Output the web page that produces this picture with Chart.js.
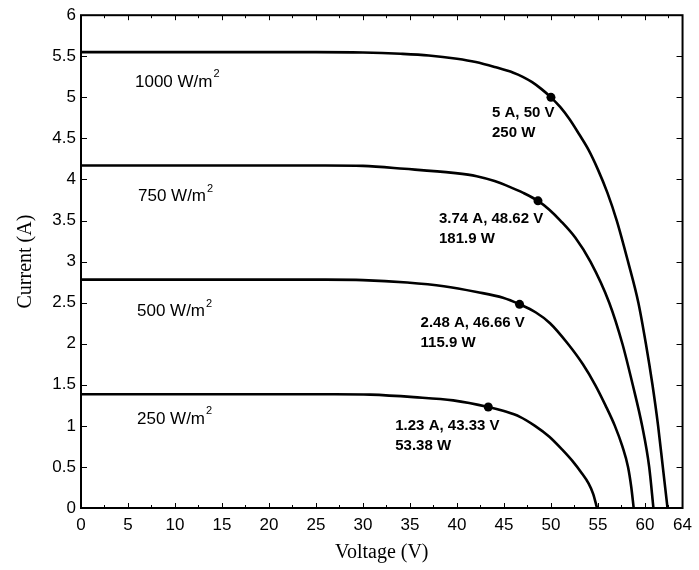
<!DOCTYPE html>
<html>
<head>
<meta charset="utf-8">
<script src="https://cdn.jsdelivr.net/npm/chart.js@4.4.1/dist/chart.umd.min.js"></script>
<style>
  html, body { margin: 0; padding: 0; background: #fff; }
  canvas { display: block; }
</style>
</head>
<body>
<canvas id="iv" width="699" height="570"></canvas>
<script>
// PV module I-V curves at four irradiance levels
const irradiance = [1000, 750, 500, 250];

const volts1000 = [0, 25, 30, 34, 37, 40, 42, 44, 46, 47, 48, 49, 50, 51, 52, 53, 54, 55, 56, 57, 58.2, 59.3, 60.1, 60.8, 61.4, 61.9, 62.4];
const amps1000  = [5.55, 5.55, 5.545, 5.53, 5.51, 5.47, 5.43, 5.37, 5.30, 5.25, 5.185, 5.10, 5.0, 4.88, 4.73, 4.55, 4.36, 4.12, 3.84, 3.5, 3.0, 2.5, 2.0, 1.5, 1.0, 0.5, 0];

const volts750 = [0, 26, 30, 34.4, 39.6, 42.1, 44, 45.6, 47, 48.62, 49.8, 51.0, 52.6, 54.2, 56.2, 57.6, 58.7, 59.7, 60.45, 60.9];
const amps750  = [4.17, 4.17, 4.165, 4.13, 4.08, 4.04, 3.98, 3.91, 3.84, 3.74, 3.635, 3.5, 3.29, 3.0, 2.5, 2.0, 1.5, 1.0, 0.5, 0];

const volts500 = [0, 26, 30, 34.7, 38.6, 42.1, 44.9, 46.66, 48.4, 49.9, 51.8, 53.4, 54.7, 55.8, 56.8, 57.6, 58.2, 58.55, 58.8];
const amps500  = [2.78, 2.78, 2.775, 2.745, 2.70, 2.63, 2.56, 2.48, 2.38, 2.25, 2.0, 1.75, 1.5, 1.25, 1.0, 0.75, 0.5, 0.25, 0];

const volts250 = [0, 27, 30.8, 35.4, 39.6, 43.33, 45, 46.7, 48.3, 49.8, 51.2, 52.3, 53.3, 54.0, 54.5, 54.9];
const amps250  = [1.385, 1.385, 1.38, 1.35, 1.31, 1.23, 1.18, 1.11, 1.0, 0.87, 0.71, 0.57, 0.42, 0.30, 0.17, 0];

// maximum power points
const mppVolts = [50, 48.62, 46.66, 43.33];
const mppAmps  = [5, 3.74, 2.48, 1.23];
const mppWatts = ['250', '181.9', '115.9', '53.38'];

const xTicks = [0, 5, 10, 15, 20, 25, 30, 35, 40, 45, 50, 55, 60, 64];
const yTicks = [0, 0.5, 1, 1.5, 2, 2.5, 3, 3.5, 4, 4.5, 5, 5.5, 6];

const curves = [
  [volts1000, amps1000],
  [volts750, amps750],
  [volts500, amps500],
  [volts250, amps250],
];

const toPoints = (xs, ys) => xs.map((v, i) => ({ x: v, y: ys[i] }));

// label placement, in pixels
const irrLabelLeft = [54, 57, 56, 56];   // from the left edge of the plot
const irrLabelDrop = [30, 31, 32, 25];   // below the short-circuit line
const mppLabelDx = [-59, -99, -99, -93];
const mppLabelDy = [16, 18, 19, 19];

const frame = {
  id: 'frame',
  afterDatasetsDraw(chart) {
    const { ctx, chartArea: a, scales: { x, y } } = chart;
    ctx.save();
    ctx.strokeStyle = '#000';

    // inward tick marks on all four sides
    ctx.lineWidth = 1;
    ctx.beginPath();
    for (let k = 0; k * 2.5 <= 64; k++) {
      const px = Math.round(x.getPixelForValue(k * 2.5)) + 0.5;
      const len = k % 2 ? 3 : 5;
      ctx.moveTo(px, a.bottom); ctx.lineTo(px, a.bottom - len);
      ctx.moveTo(px, a.top); ctx.lineTo(px, a.top + len);
    }
    yTicks.forEach((v) => {
      const py = Math.round(y.getPixelForValue(v)) + 0.5;
      ctx.moveTo(a.left, py); ctx.lineTo(a.left + 6, py);
      ctx.moveTo(a.right, py); ctx.lineTo(a.right - 6, py);
    });
    ctx.stroke();

    ctx.lineWidth = 2;
    ctx.strokeRect(a.left, a.top, a.right - a.left, a.bottom - a.top);

    ctx.fillStyle = '#000';
    ctx.textBaseline = 'middle';
    ctx.textAlign = 'left';

    // irradiance labels with a superscript 2
    irradiance.forEach((g, i) => {
      const px = a.left + irrLabelLeft[i];
      const py = y.getPixelForValue(curves[i][1][0]) + irrLabelDrop[i];
      ctx.font = '17px "Liberation Sans", Arial, sans-serif';
      const txt = g + ' W/m';
      ctx.fillText(txt, px, py);
      const w = ctx.measureText(txt).width;
      ctx.font = '11px "Liberation Sans", Arial, sans-serif';
      ctx.fillText('2', px + w + 1, py - 8);
    });

    // maximum power point readouts
    ctx.font = 'bold 15px "Liberation Sans", Arial, sans-serif';
    mppVolts.forEach((v, i) => {
      const px = x.getPixelForValue(v) + mppLabelDx[i];
      const py = y.getPixelForValue(mppAmps[i]) + mppLabelDy[i];
      ctx.fillText(mppAmps[i] + ' A, ' + v + ' V', px, py);
      ctx.fillText(mppWatts[i] + ' W', px, py + 20);
    });

    ctx.restore();
  },
};

const datasets = curves.map(([xs, ys], i) => ({
  label: irradiance[i] + ' W/m2',
  data: toPoints(xs, ys),
  borderColor: '#000',
  borderWidth: 2.6,
  pointRadius: 0,
  cubicInterpolationMode: 'monotone',
  fill: false,
}));

datasets.push({
  label: 'MPP',
  data: toPoints(mppVolts, mppAmps),
  showLine: false,
  pointRadius: 4.5,
  pointBackgroundColor: '#000',
  pointBorderColor: '#000',
  pointBorderWidth: 0,
});

new Chart(document.getElementById('iv'), {
  type: 'line',
  data: { datasets },
  plugins: [frame],
  options: {
    responsive: false,
    animation: false,
    events: [],
    layout: { padding: { top: 15, right: 11, left: 0, bottom: 0 } },
    plugins: { legend: { display: false }, tooltip: { enabled: false } },
    scales: {
      x: {
        type: 'linear',
        min: 0,
        max: 64,
        afterBuildTicks: (s) => { s.ticks = xTicks.map((v) => ({ value: v })); },
        afterFit: (s) => { s.height = 62; },
        grid: { display: false, drawTicks: false },
        border: { display: false },
        ticks: {
          autoSkip: false,
          maxRotation: 0,
          padding: 7,
          color: '#000',
          font: { family: '"Liberation Sans", Arial, sans-serif', size: 17 },
          callback: (v) => String(v),
        },
        title: {
          display: true,
          text: 'Voltage (V)',
          color: '#000',
          padding: { top: 0, bottom: 5 },
          font: { family: '"Liberation Serif", "Times New Roman", serif', size: 20 },
        },
      },
      y: {
        type: 'linear',
        min: 0,
        max: 6,
        afterBuildTicks: (s) => { s.ticks = yTicks.map((v) => ({ value: v })); },
        afterFit: (s) => { s.width = 81; },
        grid: { display: false, drawTicks: false },
        border: { display: false },
        ticks: {
          autoSkip: false,
          padding: 5,
          color: '#000',
          font: { family: '"Liberation Sans", Arial, sans-serif', size: 17 },
          callback: (v) => String(v),
        },
        title: {
          display: true,
          text: 'Current (A)',
          color: '#000',
          padding: { top: 14, bottom: 0 },
          font: { family: '"Liberation Serif", "Times New Roman", serif', size: 20 },
        },
      },
    },
  },
});
</script>
</body>
</html>
